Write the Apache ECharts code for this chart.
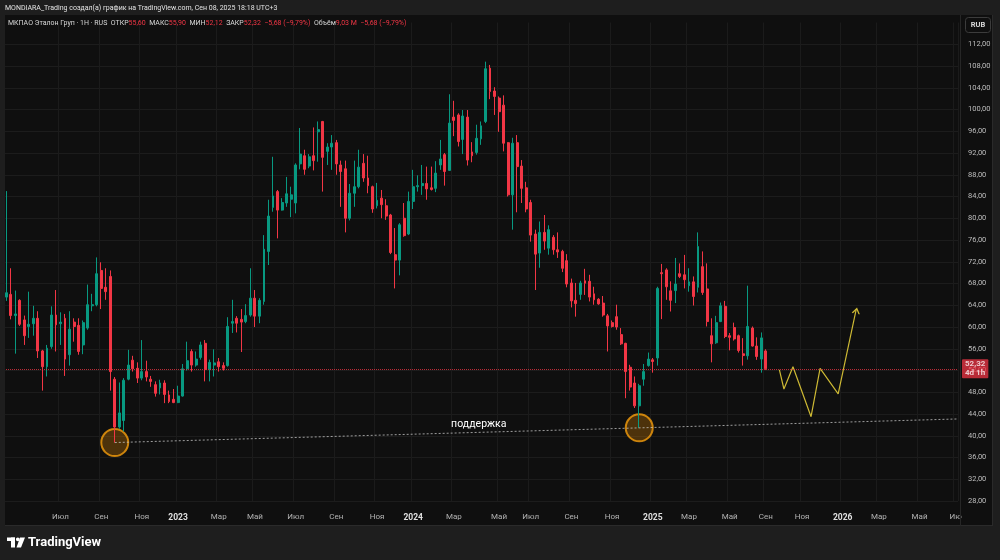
<!DOCTYPE html>
<html>
<head>
<meta charset="utf-8">
<title>МКПАО Эталон Груп · 1Н</title>
<script src="https://cdn.jsdelivr.net/npm/echarts@6/dist/echarts.min.js"></script>
<style>
  html, body { margin: 0; padding: 0; background: #1e1e1e; }
  #chart { width: 1000px; height: 560px; }
</style>
</head>
<body>
<div id="chart"></div>
<script>
// weekly candles (index 0 = first visible week)
const open = [65.5,66.0,62.1,64.9,61.3,60.1,60.6,61.6,55.6,52.7,
  56.4,62.2,60.6,61.6,54.9,60.9,60.3,56.7,59.8,63.9,
  64.1,70.4,67.3,69.3,50.4,41.6,42.8,50.4,53.9,52.4,
  50.6,51.8,50.4,49.4,48.8,49.7,47.5,46.7,46.1,47.3,
  52.3,55.5,53.0,54.4,57.0,52.2,53.0,53.6,52.9,52.9,
  60.7,61.6,61.4,61.0,62.2,65.3,62.0,64.7,73.9,82.0,
  84.9,81.5,82.8,83.5,82.8,90.0,91.5,89.6,91.5,95.9,
  97.8,92.3,93.1,93.9,89.8,89.1,80.0,84.6,85.8,90.1,
  87.4,85.8,82.3,83.7,82.3,80.6,73.3,72.3,80.0,77.1,
  83.1,85.8,86.0,86.4,85.6,85.5,89.8,91.7,88.8,98.6,
  99.0,94.5,98.6,92.2,92.1,94.6,97.8,107.6,103.4,102.1,
  100.8,93.9,84.3,93.9,89.6,85.6,82.9,77.1,73.6,77.4,
  74.5,76.5,74.2,73.9,72.2,68.1,64.9,66.0,68.5,68.4,
  66.1,65.1,64.4,62.05,60.8,61.9,58.6,57.0,52.6,49.7,
  45.5,50.4,52.9,53.96,54.3,70.0,70.5,66.65,66.7,69.8,
  69.6,67.6,68.3,67.3,71.1,67.0,58.4,57.1,61.0,63.8,
  58.4,59.9,58.4,55.07,54.7,59.8,56.5,54.1,55.6];
const close = [66.3,62.1,62.4,60.5,58.4,60.5,61.6,55.6,52.7,56.1,
  62.2,60.4,60.9,54.1,59.6,60.1,55.5,60.8,64.1,64.1,
  69.8,67.1,66.5,51.8,41.6,44.2,50.2,53.0,52.3,50.6,
  51.8,50.8,50.0,47.8,49.7,47.6,46.3,46.1,47.3,52.3,
  53.8,53.0,54.1,56.7,52.2,53.5,53.4,52.7,52.4,60.1,
  61.0,60.7,60.9,62.1,65.3,62.0,64.9,74.3,80.4,84.1,
  81.5,82.9,84.5,84.3,89.8,91.8,89.0,91.3,90.6,96.3,
  91.2,93.1,93.8,90.0,88.6,80.0,84.6,85.8,89.4,87.4,
  86.0,81.7,83.3,82.5,80.4,73.7,72.3,78.8,76.8,83.1,
  85.8,86.0,86.4,85.4,85.3,88.3,90.9,88.6,97.5,98.0,
  94.1,98.8,90.7,91.5,94.7,97.0,107.5,103.3,102.4,99.6,
  93.8,84.3,93.8,89.5,85.5,81.7,76.9,73.4,77.4,75.8,
  77.9,74.2,73.8,70.8,67.9,64.8,64.3,68.1,68.06,65.5,
  65.0,64.25,62.2,60.2,60.1,60.0,56.9,51.8,48.95,45.5,
  49.2,51.8,54.1,53.65,67.1,69.8,67.4,64.9,67.9,69.3,
  68.7,68.3,65.6,74.8,66.35,61.0,56.9,60.8,63.9,58.25,
  58.1,57.8,55.67,54.75,60.1,56.5,54.57,58.0,52.32];
const low = [64.8,61.4,55.1,60.2,56.7,58.0,58.4,54.3,48.3,50.9,
  56.0,55.5,56.7,51.0,52.9,57.3,54.9,55.0,59.5,62.9,
  63.8,63.3,65.0,48.3,38.75,41.3,40.8,50.2,51.8,49.7,
  50.2,50.0,49.0,47.2,47.6,46.0,46.0,46.0,46.0,47.2,
  52.0,51.8,52.7,54.0,50.0,50.0,50.9,51.8,52.0,52.7,
  58.9,59.0,55.4,60.7,61.9,60.0,60.7,64.1,71.4,81.2,
  76.3,81.4,82.1,80.2,80.9,89.0,88.0,89.2,88.8,90.4,
  84.9,89.8,88.9,88.0,82.1,77.4,79.6,82.1,85.5,86.7,
  84.6,81.0,81.8,80.0,79.7,73.4,67.1,69.5,76.6,76.9,
  81.7,84.9,84.3,83.4,85.1,84.8,88.9,86.0,88.7,95.1,
  93.2,91.8,89.7,90.3,91.7,93.5,97.5,101.9,99.0,95.9,
  92.3,84.0,77.9,81.1,82.8,81.1,75.7,66.8,70.9,74.2,
  73.3,73.3,72.7,70.1,67.3,63.6,61.9,65.0,65.9,64.7,
  64.1,64.1,61.9,55.5,59.9,59.5,56.7,46.9,48.3,45.1,
  41.45,49.2,52.7,51.6,52.9,61.45,65.0,62.85,64.4,69.0,
  67.1,66.5,63.95,66.35,65.9,60.1,53.5,56.9,60.9,57.95,
  55.7,57.5,55.3,52.9,54.0,56.4,53.96,51.6,52.12];
const high = [85.0,70.8,66.7,65.1,62.1,66.5,63.9,62.9,55.8,56.7,
  63.8,66.8,62.7,62.4,62.9,61.6,61.6,61.2,67.8,66.1,
  72.8,71.9,70.8,70.4,50.8,49.8,50.6,55.8,54.7,53.5,
  57.6,53.8,51.0,50.0,50.3,50.2,48.3,48.6,49.2,53.2,
  57.3,55.9,55.5,57.3,57.6,54.0,55.9,54.3,53.5,61.8,
  65.0,62.0,63.3,64.2,70.8,66.8,65.3,76.9,83.4,91.3,
  85.2,83.7,87.6,85.8,90.1,96.6,92.6,91.8,96.7,97.8,
  97.9,93.8,95.3,94.4,90.6,90.6,86.3,90.6,92.6,91.8,
  91.5,86.0,86.5,85.2,83.5,80.8,78.2,79.1,82.8,84.9,
  88.9,87.9,89.8,89.5,89.5,90.5,94.4,92.0,102.8,101.6,
  99.3,99.9,99.9,94.0,97.2,97.8,108.8,108.2,104.1,102.4,
  102.6,94.0,94.8,95.3,90.7,86.7,83.4,77.9,79.4,80.6,
  78.7,76.9,77.4,74.2,73.4,68.9,68.1,68.5,70.7,69.6,
  67.4,65.3,65.7,62.4,61.2,64.1,59.8,57.1,53.05,50.9,
  49.55,53.2,55.3,54.3,67.4,71.6,70.8,68.4,72.7,71.7,
  73.26,70.8,69.3,77.4,73.9,71.7,61.6,62.05,64.5,64.8,
  58.9,60.8,58.6,57.95,67.6,60.1,58.1,59.0,55.9];

// time scale: one slot per week, incl. empty future weeks
const SLOT_COUNT = 211;
const timeTicks = [[12,'Июл'],[21,'Сен'],[30,'Ноя'],[38,'2023'],[47,'Мар'],[55,'Май'],
  [64,'Июл'],[73,'Сен'],[82,'Ноя'],[90,'2024'],[99,'Мар'],[109,'Май'],[116,'Июл'],
  [125,'Сен'],[134,'Ноя'],[143,'2025'],[151,'Мар'],[160,'Май'],[168,'Сен'],
  [176,'Ноя'],[185,'2026'],[193,'Мар'],[202,'Май'],[210,'Ию']];

// drawings: [week slot, price]
const supportLine = [[24, 38.75], [210.5, 43.09]];
const supportTouches = [[24, 38.75], [140, 41.45]];
const supportText = 'поддержка';
const supportTextSlot = 104.5;
const forecastPath = [[171, 52.1], [172, 48.6], [174, 52.7], [178, 43.5], [180, 52.4], [184, 47.7], [188, 63.3]];

const volumeText = '9,03 M';
const barCountdown = '4d 1h';

const UP = '#089981';
const DOWN = '#f23645';
const GRID = '#1c1c1c';

const slotLabels = Array.from({ length: SLOT_COUNT }, () => '');
timeTicks.forEach(([i, t]) => { slotLabels[i] = t; });
const categories = slotLabels.map((_, i) => String(i));

const fmt = (v) => v.toFixed(2).replace('.', ',');
const signed = (v) => (v < 0 ? '−' : '+') + fmt(Math.abs(v));

const last = close.length - 1;
const change = close[last] - close[last - 1];
const changePct = change / close[last - 1] * 100;
const changeText = signed(change) + ' (' + signed(changePct) + '%)';

// value at a slot along the support line
const supportAt = (s) => {
  const [[x0, y0], [x1, y1]] = supportLine;
  return y0 + (y1 - y0) * (s - x0) / (x1 - x0);
};

// horizontal grid: 28..116 step 4, the top one (116) sits under the legend row and is hidden
const yGridColors = Array.from({ length: 23 }, (_, i) => (i === 22 ? 'rgba(0,0,0,0)' : GRID));

const chart = echarts.init(document.getElementById('chart'));

chart.setOption({
  backgroundColor: '#0f0f0f',
  animation: false,
  textStyle: { fontFamily: 'Roboto, "Noto Sans", sans-serif' },
  grid: { left: 4, right: 42, top: 22.5, bottom: 59 },
  xAxis: [
    {
      type: 'category',
      data: categories,
      boundaryGap: true,
      axisLine: { show: false },
      axisTick: { show: false },
      axisLabel: {
        interval: 0,
        margin: 12,
        color: '#b4b4b4',
        fontSize: 8,
        formatter: (v, i) => {
          const t = slotLabels[i];
          if (!t) return '';
          return /^\d{4}$/.test(t) ? '{y|' + t + '}' : t;
        },
        rich: { y: { color: '#e0e0e0', fontSize: 8.5, fontWeight: 'bold' } }
      },
      splitLine: {
        show: true,
        interval: (i) => slotLabels[i] !== '',
        lineStyle: { color: '#1b1b1b', width: 1 }
      }
    },
    { type: 'value', min: -0.5, max: SLOT_COUNT - 0.5, show: false }
  ],
  yAxis: {
    type: 'value',
    position: 'right',
    min: 28,
    max: 116,
    interval: 4,
    axisLine: { show: false },
    axisTick: { show: false },
    axisLabel: {
      align: 'left',
      margin: 10,
      color: '#bdbdbd',
      fontSize: 7.5,
      formatter: (v) => (v > 112 ? '' : fmt(v))
    },
    splitLine: { lineStyle: { color: yGridColors, width: 1 } }
  },
  series: [
    {
      type: 'scatter',
      xAxisIndex: 1,
      z: 1,
      symbolSize: 27,
      itemStyle: { color: 'rgba(255,152,0,0.32)', borderColor: '#f59d0c', borderWidth: 2 },
      data: supportTouches
    },
    {
      type: 'candlestick',
      barWidth: 2.4,
      z: 2,
      itemStyle: { color: UP, color0: DOWN, borderColor: UP, borderColor0: DOWN, borderWidth: 1 },
      data: open.map((o, i) => [o, close[i], low[i], high[i]]),
      markLine: {
        silent: true,
        symbol: 'none',
        lineStyle: { color: DOWN, type: 'dotted', width: 1, opacity: 0.75 },
        label: {
          position: 'end',
          distance: 4,
          formatter: () => fmt(close[last]) + '\n' + barCountdown,
          color: '#ffffff',
          backgroundColor: DOWN,
          fontSize: 8,
          lineHeight: 9,
          fontWeight: 'bold',
          padding: [1, 3, 0, 3],
          borderRadius: 1
        },
        data: [{ yAxis: close[last] }]
      }
    },
    {
      type: 'line',
      xAxisIndex: 1,
      z: 3,
      symbol: 'none',
      lineStyle: { color: 'rgba(215,215,215,0.7)', width: 1, type: [2, 2] },
      data: supportLine,
      markPoint: {
        silent: true,
        symbol: 'circle',
        symbolSize: 0,
        label: {
          show: true,
          position: 'inside',
          offset: [0, -8],
          color: '#ffffff',
          fontSize: 10.5,
          formatter: supportText
        },
        data: [{ coord: [supportTextSlot, supportAt(supportTextSlot)] }]
      }
    },
    {
      type: 'line',
      xAxisIndex: 1,
      z: 4,
      symbol: 'none',
      lineStyle: { color: '#cdb934', width: 1.2 },
      data: forecastPath.map((p, i) => i === forecastPath.length - 1
        ? {
            value: p,
            symbol: 'path://M0,8 L5,0 L10,8',
            symbolSize: [7, 5],
            symbolRotate: -12,
            symbolOffset: [0, 2],
            itemStyle: { color: 'none', borderColor: '#cdb934', borderWidth: 1.2 }
          }
        : { value: p })
    }
  ],
  graphic: [
    // page frame around the chart pane
    { type: 'rect', z: 100, silent: true, shape: { x: 0, y: 0, width: 1000, height: 15 }, style: { fill: '#1e1e1e' } },
    { type: 'rect', z: 100, silent: true, shape: { x: 0, y: 526, width: 1000, height: 34 }, style: { fill: '#1e1e1e' } },
    { type: 'rect', z: 100, silent: true, shape: { x: 0, y: 0, width: 5, height: 560 }, style: { fill: '#1e1e1e' } },
    { type: 'rect', z: 100, silent: true, shape: { x: 993, y: 0, width: 7, height: 560 }, style: { fill: '#1e1e1e' } },
    { type: 'line', z: 101, silent: true, shape: { x1: 992.5, y1: 15, x2: 992.5, y2: 526 }, style: { stroke: '#2a2a2a', lineWidth: 1 } },
    { type: 'line', z: 101, silent: true, shape: { x1: 5, y1: 525.5, x2: 993, y2: 525.5 }, style: { stroke: '#2a2a2a', lineWidth: 1 } },
    { type: 'line', z: 101, silent: true, shape: { x1: 960.5, y1: 15, x2: 960.5, y2: 526 }, style: { stroke: '#262626', lineWidth: 1 } },
    // currency box
    { type: 'rect', z: 101, silent: true, shape: { x: 965.5, y: 17.5, width: 25, height: 15, r: 3 }, style: { fill: '#0f0f0f', stroke: '#3c3c3c', lineWidth: 1 } },
    { type: 'text', z: 102, silent: true, x: 978, y: 25, style: { text: 'RUB', fill: '#d6d6d6', font: 'bold 7.5px Roboto, sans-serif', align: 'center', verticalAlign: 'middle' } },
    // header lines
    {
      type: 'text', z: 102, silent: true, x: 5, y: 8,
      style: { text: 'MONDIARA_Trading создал(а) график на TradingView.com, Сен 08, 2025 18:18 UTC+3', fill: '#e3e3e3', font: '7px Roboto, sans-serif', verticalAlign: 'middle' }
    },
    {
      type: 'text', z: 102, silent: true, x: 8, y: 23,
      style: {
        text: '{n|МКПАО Эталон Груп · 1Н · RUS}  {l|ОТКР}{v|' + fmt(open[last]) + '}  {l|МАКС}{v|' + fmt(high[last]) +
          '}  {l|МИН}{v|' + fmt(low[last]) + '}  {l|ЗАКР}{v|' + fmt(close[last]) + '}  {v|' + changeText +
          '}  {l|Объём}{v|' + volumeText + '}  {v|' + changeText + '}',
        verticalAlign: 'middle',
        font: '7px Roboto, sans-serif',
        rich: {
          n: { fill: '#d6d6d6', font: '7px Roboto, sans-serif' },
          l: { fill: '#d6d6d6', font: '7px Roboto, sans-serif' },
          v: { fill: DOWN, font: '7px Roboto, sans-serif' }
        }
      }
    },
    // footer logo
    { type: 'rect', z: 102, silent: true, shape: { x: 7, y: 537.5, width: 8, height: 3.5 }, style: { fill: '#ffffff' } },
    { type: 'rect', z: 102, silent: true, shape: { x: 11, y: 537.5, width: 4, height: 10 }, style: { fill: '#ffffff' } },
    { type: 'circle', z: 102, silent: true, shape: { cx: 17.8, cy: 539.3, r: 1.9 }, style: { fill: '#ffffff' } },
    { type: 'polygon', z: 102, silent: true, shape: { points: [[20, 537.5], [25, 537.5], [21, 547.5], [16.5, 547.5]] }, style: { fill: '#ffffff' } },
    { type: 'text', z: 102, silent: true, x: 28, y: 543, style: { text: 'TradingView', fill: '#ffffff', font: 'bold 13px Roboto, sans-serif', verticalAlign: 'middle' } }
  ]
});
</script>
</body>
</html>
